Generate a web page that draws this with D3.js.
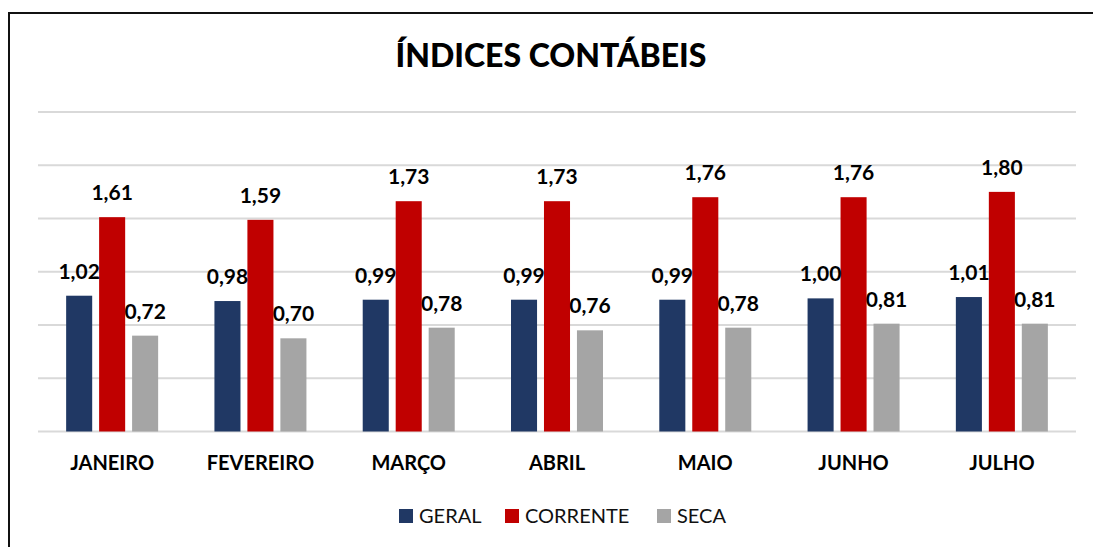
<!DOCTYPE html>
<html>
  <head>
    <meta charset='utf-8'>
    <script src="https://d3js.org/d3.v7.min.js"></script>
    <title>Índices Contábeis</title>
    <style>
      body { margin: 0; background: #fff; }
      text { font-family: Lato, "Open Sans", sans-serif; }
    </style>
  </head>
  <body>
    <div id='chartDIV'></div>
    <script>

  // data
  var months = ["JANEIRO", "FEVEREIRO", "MARÇO", "ABRIL", "MAIO", "JUNHO", "JULHO"];
  var seriesNames = ["GERAL", "CORRENTE", "SECA"];
  var geral = [1.02, 0.98, 0.99, 0.99, 0.99, 1.00, 1.01];
  var corrente = [1.61, 1.59, 1.73, 1.73, 1.76, 1.76, 1.80];
  var seca = [0.72, 0.70, 0.78, 0.76, 0.78, 0.81, 0.81];
  var gridTicks = [0, 0.4, 0.8, 1.2, 1.6, 2.0, 2.4];

  var colors = { "GERAL": "#203864", "CORRENTE": "#c00000", "SECA": "#a5a5a5" };
  var valuesBySeries = { "GERAL": geral, "CORRENTE": corrente, "SECA": seca };

  const width = 1093, height = 547;
  const plot = { left: 38, right: 1076, top: 112, bottom: 431.5 };

  var locale = d3.formatLocale({ decimal: ",", thousands: ".", grouping: [3], currency: ["R$", ""] });
  var fmt = locale.format(".2f");

  var svg = d3.select("#chartDIV")
    .append("svg")
    .attr("width", width)
    .attr("height", height);

  // frame (top and left edges only, as in the screenshot)
  svg.append("line")
    .attr("x1", 8).attr("x2", width).attr("y1", 13).attr("y2", 13)
    .attr("stroke", "#111").attr("stroke-width", 2);
  svg.append("line")
    .attr("x1", 9).attr("x2", 9).attr("y1", 13).attr("y2", height)
    .attr("stroke", "#111").attr("stroke-width", 2);

  var x0 = d3.scaleBand()
    .domain(months)
    .range([plot.left, plot.right]);

  var groupW = 92;
  var x1 = d3.scaleBand()
    .domain(seriesNames)
    .range([0, groupW])
    .paddingInner(0.21);

  var yScale = d3.scaleLinear()
    .domain([0, 2.4])
    .range([plot.bottom, plot.top]);

  // gridlines
  svg.append("g")
    .selectAll("line")
    .data(gridTicks)
    .enter()
    .append("line")
    .attr("x1", plot.left)
    .attr("x2", plot.right)
    .attr("y1", d => yScale(d))
    .attr("y2", d => yScale(d))
    .attr("stroke", "#d9d9d9")
    .attr("stroke-width", 2);

  // title
  svg.append("text")
    .attr("x", 551)
    .attr("y", 67)
    .attr("text-anchor", "middle")
    .style("font-size", "32px")
    .style("font-weight", "900")
    .attr("fill", "#000")
    .text("ÍNDICES CONTÁBEIS");

  var groups = svg.selectAll(".month")
    .data(months)
    .enter()
    .append("g")
    .attr("class", "month")
    .attr("transform", d => "translate(" + (x0(d) + (x0.bandwidth() - groupW) / 2) + ",0)");

  groups.selectAll("rect")
    .data((m, i) => seriesNames.map(s => ({ s: s, v: valuesBySeries[s][i] })))
    .enter()
    .append("rect")
    .attr("x", d => x1(d.s))
    .attr("width", x1.bandwidth())
    .attr("y", d => yScale(d.v))
    .attr("height", d => yScale(0) - yScale(d.v))
    .attr("fill", d => colors[d.s]);

  groups.selectAll("text.val")
    .data((m, i) => seriesNames.map(s => ({ s: s, v: valuesBySeries[s][i] })))
    .enter()
    .append("text")
    .attr("class", "val")
    .attr("x", d => x1(d.s) + x1.bandwidth() / 2)
    .attr("y", d => yScale(d.v) - 17)
    .attr("text-anchor", "middle")
    .style("font-size", "21px")
    .style("font-weight", "bold")
    .attr("fill", "#000")
    .text(d => fmt(d.v));

  // category labels
  svg.append("g")
    .selectAll("text")
    .data(months)
    .enter()
    .append("text")
    .attr("x", d => x0(d) + x0.bandwidth() / 2)
    .attr("y", 470)
    .attr("text-anchor", "middle")
    .style("font-size", "20px")
    .style("font-weight", "bold")
    .attr("fill", "#000")
    .text(d => d);

  // legend
  var legendX = { "GERAL": 399, "CORRENTE": 505, "SECA": 657 };
  var legend = svg.append("g")
    .selectAll("g")
    .data(seriesNames)
    .enter()
    .append("g")
    .attr("transform", d => "translate(" + legendX[d] + ",509)");

  legend.append("rect")
    .attr("width", 14)
    .attr("height", 14)
    .attr("fill", d => colors[d]);

  legend.append("text")
    .attr("x", 20)
    .attr("y", 14)
    .style("font-size", "20px")
    .attr("fill", "#111")
    .text(d => d);

    </script>
  </body>
</html>
